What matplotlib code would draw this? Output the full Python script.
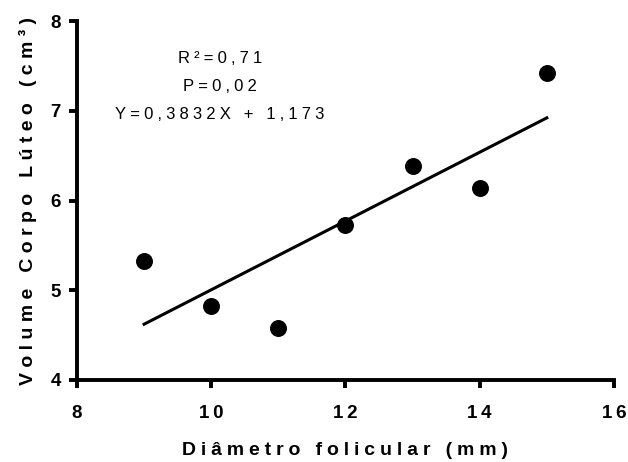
import matplotlib
matplotlib.use('Agg')
import matplotlib.pyplot as plt
import numpy as np

diametro = [9, 10, 11, 12, 13, 14, 15]
volume = [5.33, 4.83, 4.58, 5.73, 6.38, 6.14, 7.42]
slope = 0.3832
intercept = 1.173
x_ticks = [8, 10, 12, 14, 16]
y_ticks = [4, 5, 6, 7, 8]
stats = ['R²=0,71', 'P=0,02', 'Y=0,3832X + 1,173']

plt.rcParams['font.family'] = ['Liberation Sans', 'DejaVu Sans']


def spaced(s, sep='\u2009'):
  # wide letter spacing like the original (GraphPad style) figure
  return sep.join(s)


fig = plt.figure(figsize=(6.28, 4.62), dpi=100)
ax = fig.add_axes([0.1226, 0.1775, 0.855, 0.777])

ax.scatter(diametro, volume, s=125, color='black', zorder=3, clip_on=False)
xl = np.array([min(diametro), max(diametro)])
ax.plot(xl, slope * xl + intercept, color='black', lw=2.2)

ax.set_xlim(8, 16)
ax.set_ylim(4, 8)
ax.set_xticks(x_ticks)
ax.set_yticks(y_ticks)
ax.set_xticklabels([spaced(str(t)) for t in x_ticks], fontsize=13.5, fontweight='bold')
ax.set_yticklabels([spaced(str(t)) for t in y_ticks], fontsize=13.5, fontweight='bold')
for s in ['top', 'right']:
  ax.spines[s].set_visible(False)
for s in ['left', 'bottom']:
  ax.spines[s].set_linewidth(2.8)
ax.tick_params(width=2.8, length=5.8)
ax.tick_params(axis='x', pad=12.5)
ax.tick_params(axis='y', pad=5.8)

ax.set_xlabel(spaced('Diâmetro folicular (mm)', '\u2005'), fontsize=14, fontweight='bold')
ax.xaxis.set_label_coords(0.5, -0.173)
ax.set_ylabel(spaced('Volume Corpo Lúteo (cm³)', '\u2008'), fontsize=14, fontweight='bold')
ax.yaxis.set_label_coords(-0.075, 0.5)

for txt, yy in zip(stats, [7.53, 7.22, 6.91]):
  ax.text(10.13, yy, spaced(txt, '\u2005'), ha='center', va='baseline', fontsize=12)

plt.savefig('out.png', dpi=100)
